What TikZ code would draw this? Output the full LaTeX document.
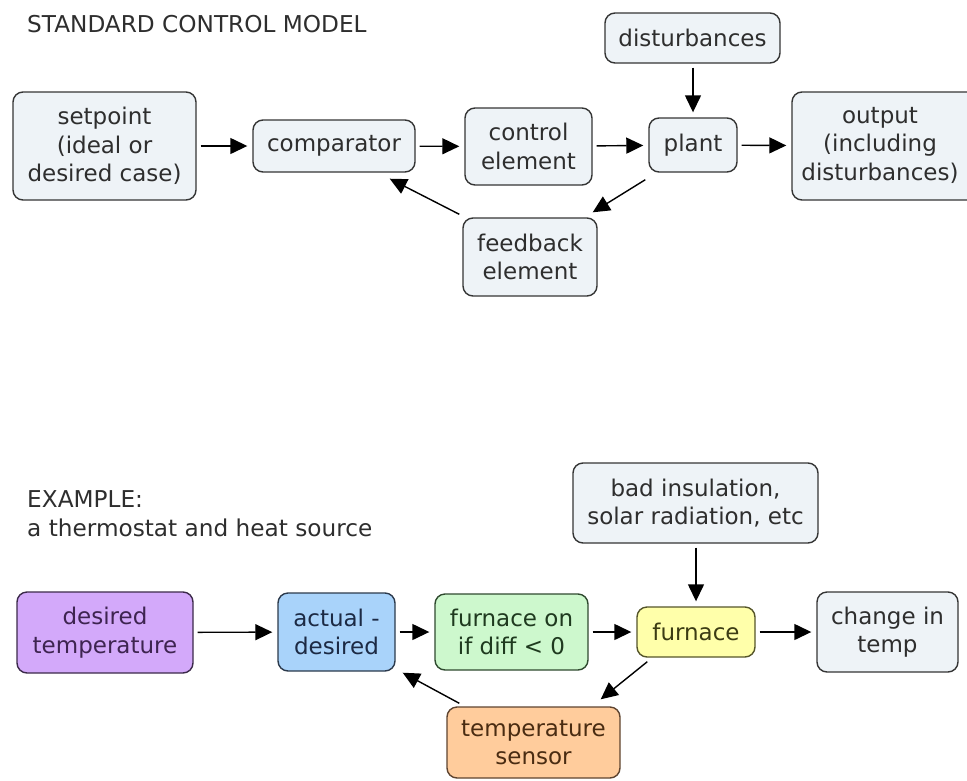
\documentclass[tikz,border=0pt]{standalone}
\usepackage{fontspec}
\setmainfont{DejaVu Sans}
\usetikzlibrary{arrows.meta}

\definecolor{boxfill}{HTML}{EEF3F7}
\definecolor{boxline}{HTML}{353535}
\definecolor{txtgray}{HTML}{2E2E2E}
\definecolor{purplefill}{HTML}{D3A9FA}
\definecolor{purpleline}{HTML}{3C2A4A}
\definecolor{purpletxt}{HTML}{3E2450}
\definecolor{bluefill}{HTML}{A9D3FA}
\definecolor{blueline}{HTML}{2C3A4C}
\definecolor{bluetxt}{HTML}{1C2A44}
\definecolor{greenfill}{HTML}{CDF8CD}
\definecolor{greenline}{HTML}{2F4A2F}
\definecolor{greentxt}{HTML}{1F3A1F}
\definecolor{yellowfill}{HTML}{FFFFAA}
\definecolor{yellowline}{HTML}{55552A}
\definecolor{yellowtxt}{HTML}{3C3C14}
\definecolor{orangefill}{HTML}{FFCC9C}
\definecolor{orangeline}{HTML}{5E4430}
\definecolor{orangetxt}{HTML}{4A2C12}

\tikzset{
  box/.style={draw=boxline, fill=boxfill, text=txtgray, rounded corners=10pt,
    line width=1.4pt, align=center, inner sep=0pt,
    font=\fontsize{23}{28.5}\selectfont},
  heading/.style={anchor=base west, inner sep=0pt, text=txtgray,
    font=\fontsize{23.2}{30}\selectfont},
  arr/.style={-{Triangle[length=17pt,width=16pt]}, line width=1.4pt,
    shorten <=4pt, shorten >=5pt},
}

\begin{document}
\begin{tikzpicture}[x=1pt,y=-1pt]
\useasboundingbox (0,0) rectangle (967,780);

% ---------- standard control model ----------
\node[heading] (title1) at (27,32) {STANDARD CONTROL MODEL};

\node[box, minimum width=183, minimum height=108] (setpoint) at (104.5,146)
  {setpoint\\(ideal or\\desired case)};
\node[box, minimum width=162, minimum height=52] (comp) at (334,146) {comparator};
\node[box, minimum width=127, minimum height=77] (ctrl) at (528.5,146.5)
  {control\\element};
\node[box, minimum width=88, minimum height=54] (plant) at (693,145) {plant};
\node[box, minimum width=175, minimum height=50] (dist) at (692.5,38) {disturbances};
% the output box runs on past the right margin; its text sits left of centre
\node[box, minimum width=190, minimum height=108] (out) at (887,146)
  {\begin{tabular}{@{}c@{\hspace{14pt}}}output\\(including\\disturbances)\end{tabular}};
\node[box, minimum width=134, minimum height=78] (fb) at (530,257)
  {feedback\\element};

\draw[arr] (setpoint) -- (comp);
\draw[arr] (comp) -- (ctrl);
\draw[arr] (ctrl) -- (plant);
\draw[arr] (plant) -- (out);
\draw[arr] (dist.south -| plant.north) -- (plant.north);
\draw[arr, shorten <=0pt, shorten >=0pt]
  ([shift={(-3,7)}]plant.south west) -- ([shift={(-5,-5)}]fb.north east);
\draw[arr, shorten <=0pt, shorten >=0pt]
  ([shift={(-3,-3)}]fb.north west) -- ([shift={(-26,6)}]comp.south east);

% ---------- thermostat example ----------
\node[heading] (title2) at (27,507) {EXAMPLE:};
\node[heading] (title3) at (27,536) {a thermostat and heat source};

\node[box, fill=purplefill, draw=purpleline, text=purpletxt,
  minimum width=176, minimum height=81] (want) at (105,632.5)
  {desired\\temperature};
\node[box, fill=bluefill, draw=blueline, text=bluetxt,
  minimum width=117, minimum height=78] (diff) at (336.5,632)
  {actual -\\desired};
\node[box, fill=greenfill, draw=greenline, text=greentxt,
  minimum width=153, minimum height=76] (switch) at (511.5,632)
  {furnace on\\if diff < 0};
\node[box, fill=yellowfill, draw=yellowline, text=yellowtxt,
  minimum width=118, minimum height=50] (furn) at (696,632) {furnace};
\node[box, minimum width=245, minimum height=80] (loss) at (695.5,503)
  {bad insulation,\\solar radiation, etc};
\node[box, minimum width=141, minimum height=80] (temp) at (887.5,632)
  {change in\\temp};
\node[box, fill=orangefill, draw=orangeline, text=orangetxt,
  minimum width=173, minimum height=71] (sens) at (533.5,742.5)
  {temperature\\sensor};

\draw[arr] (want) -- (diff);
\draw[arr] (diff) -- (switch);
\draw[arr] (switch) -- (furn);
\draw[arr] (furn) -- (temp);
\draw[arr] (loss.south -| furn.north) -- (furn.north);
\draw[arr, shorten <=0pt, shorten >=0pt]
  ([shift={(11,4)}]furn.south west) -- ([shift={(-20,-7)}]sens.north east);
\draw[arr, shorten <=0pt, shorten >=0pt]
  ([shift={(13,-3)}]sens.north west) -- ([shift={(7,1)}]diff.south east);
\end{tikzpicture}
\end{document}
